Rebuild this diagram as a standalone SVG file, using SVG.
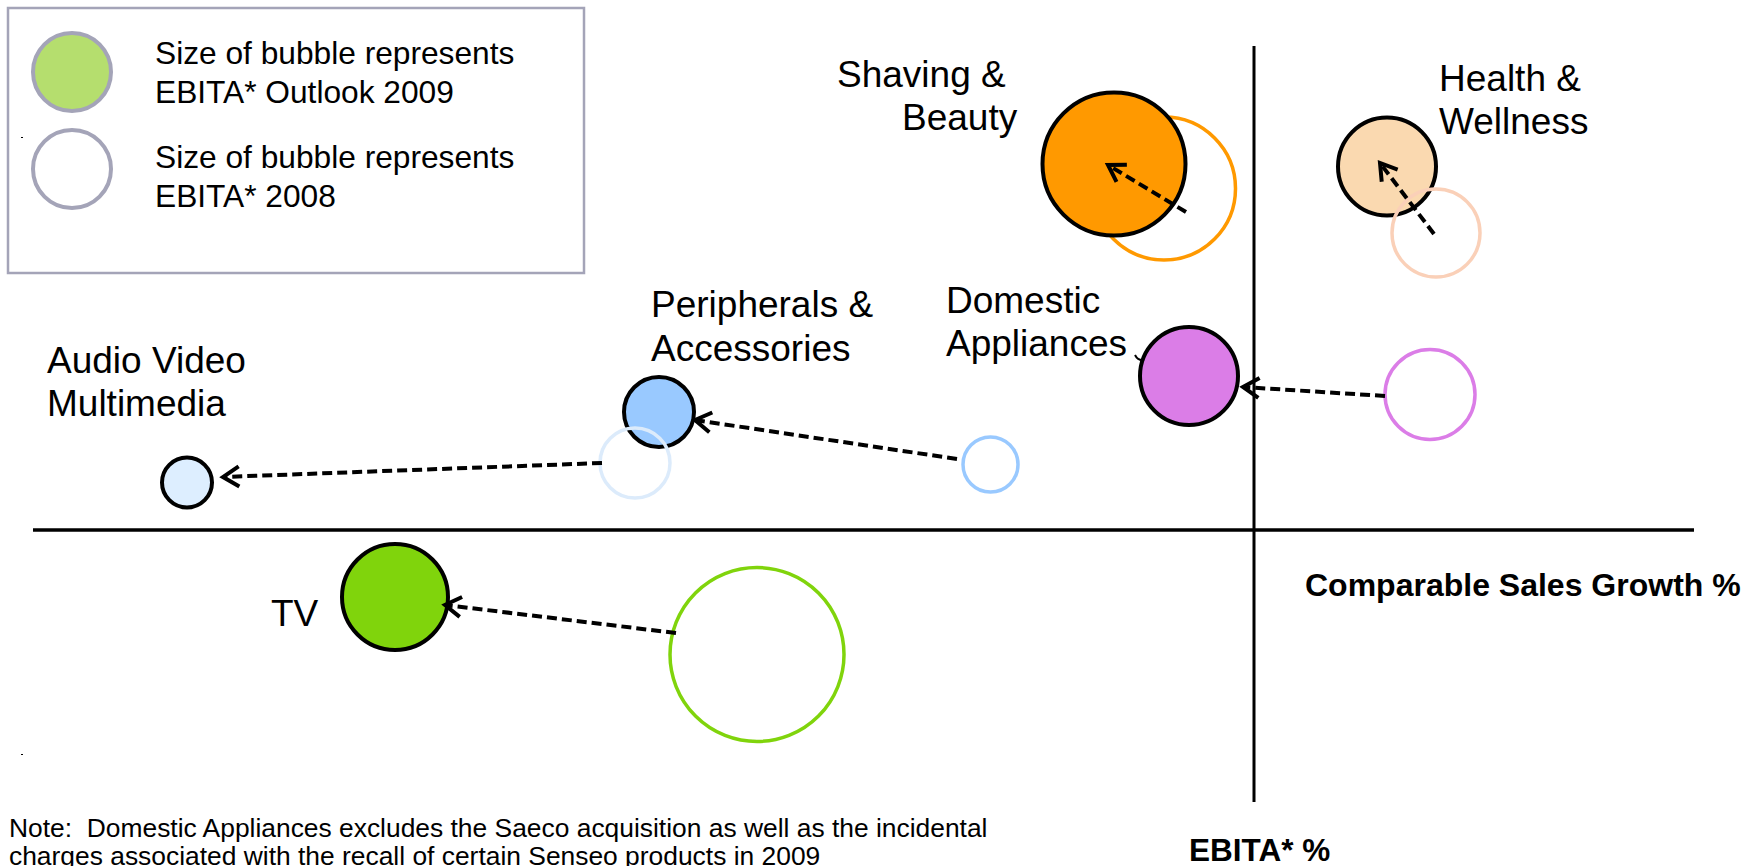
<svg xmlns="http://www.w3.org/2000/svg" width="1759" height="866" viewBox="0 0 1759 866">
<style>
text{font-family:"Liberation Sans",Arial,sans-serif;fill:#000}
.lg{font-size:31.7px}
.lab{font-size:37px}
.ax{font-size:32px;font-weight:bold}
.note{font-size:26.4px;white-space:pre}
.fill{stroke:#000;stroke-width:4}
.ring{fill:none;stroke-width:3.5}
.conn{fill:none;stroke:#000;stroke-width:4;stroke-dasharray:10 5;marker-end:url(#chev)}
</style>
<defs>
<marker id="chev" markerUnits="userSpaceOnUse" markerWidth="40" markerHeight="40" refX="0" refY="0" orient="auto" overflow="visible">
<path d="M-16,-10 L0,0 L-16,10" fill="none" stroke="#000" stroke-width="4" stroke-linejoin="miter"/>
</marker>
</defs>
<rect width="1759" height="866" fill="#fff"/>

<g id="legend">
<rect x="8" y="8" width="576" height="265" fill="#fff" stroke="#a4a4b8" stroke-width="2.5"/>
<circle cx="72" cy="72" r="39" fill="#b5de6e" stroke="#a4a4b8" stroke-width="4"/>
<circle cx="72" cy="169" r="39" fill="#fff" stroke="#a4a4b8" stroke-width="4"/>
<text class="lg" x="155" y="64">Size of bubble represents</text>
<text class="lg" x="155" y="103">EBITA* Outlook 2009</text>
<text class="lg" x="155" y="168">Size of bubble represents</text>
<text class="lg" x="155" y="207">EBITA* 2008</text>
</g>

<g id="axes">
<line x1="1254" y1="46" x2="1254" y2="802" stroke="#000" stroke-width="3"/>
<line x1="33" y1="530" x2="1694" y2="530" stroke="#000" stroke-width="3.5"/>
<text class="ax" x="1305" y="596">Comparable Sales Growth %</text>
<text class="ax" x="1189" y="861" style="font-size:31.5px">EBITA* %</text>
</g>

<g id="shaving-beauty">
<circle class="ring" cx="1164" cy="188.5" r="71.5" stroke="#ff9900" stroke-width="2.2"/>
<circle class="fill" cx="1114" cy="164" r="71.5" fill="#ff9900"/>
<text class="lab" x="837" y="87">Shaving &amp;</text>
<text class="lab" x="902" y="130">Beauty</text>
</g>

<g id="health-wellness">
<circle class="fill" cx="1387" cy="166.5" r="49" fill="#fad9b0"/>
<circle class="ring" cx="1436" cy="233" r="44" stroke="#fad0b8"/>
<text class="lab" x="1439" y="91">Health &amp;</text>
<text class="lab" x="1439" y="134">Wellness</text>
</g>

<g id="domestic-appliances">
<circle class="fill" cx="1189" cy="376" r="49" fill="#db7de7"/>
<circle class="ring" cx="1430" cy="394.5" r="45" stroke="#db7de7"/>
<text class="lab" x="946" y="313">Domestic</text>
<text class="lab" x="946" y="356">Appliances</text>
<path d="M1135,355 Q1138,361 1144,360" fill="none" stroke="#000" stroke-width="2"/>
</g>

<g id="peripherals-accessories">
<circle class="fill" cx="659" cy="412" r="35" fill="#99c9ff"/>
<circle class="ring" cx="990.5" cy="464.5" r="27.5" stroke="#99c9ff"/>
<text class="lab" x="651" y="317">Peripherals &amp;</text>
<text class="lab" x="651" y="361">Accessories</text>
</g>

<g id="audio-video-multimedia">
<circle class="ring" cx="635" cy="463" r="35" stroke="#dcebfb"/>
<circle class="fill" cx="187" cy="482.5" r="25" fill="#ddeeff" stroke-width="3.5"/>
<text class="lab" x="47" y="373">Audio Video</text>
<text class="lab" x="47" y="416">Multimedia</text>
</g>

<g id="tv">
<circle class="fill" cx="395" cy="597" r="53" fill="#80d40c"/>
<circle class="ring" cx="757" cy="654.5" r="87" stroke="#80d40c" stroke-width="2.2"/>
<text class="lab" x="271" y="626">TV</text>
</g>

<g id="connectors">
<line class="conn" x1="1186" y1="212" x2="1108" y2="165"/>
<line class="conn" x1="1434" y1="234" x2="1380" y2="163"/>
<line class="conn" x1="1385" y1="396" x2="1243" y2="387"/>
<line class="conn" x1="957" y1="459" x2="695" y2="420"/>
<line class="conn" x1="602" y1="463" x2="223" y2="477"/>
<line class="conn" x1="676" y1="633" x2="445" y2="605"/>
</g>

<g id="note">
<text class="note" x="9" y="837" xml:space="preserve">Note:  Domestic Appliances excludes the Saeco acquisition as well as the incidental</text>
<text class="note" x="9" y="865">charges associated with the recall of certain Senseo products in 2009</text>
</g>
<rect x="21" y="137" width="2" height="1" fill="#000"/>
<rect x="21" y="754" width="2" height="1" fill="#000"/>
</svg>
